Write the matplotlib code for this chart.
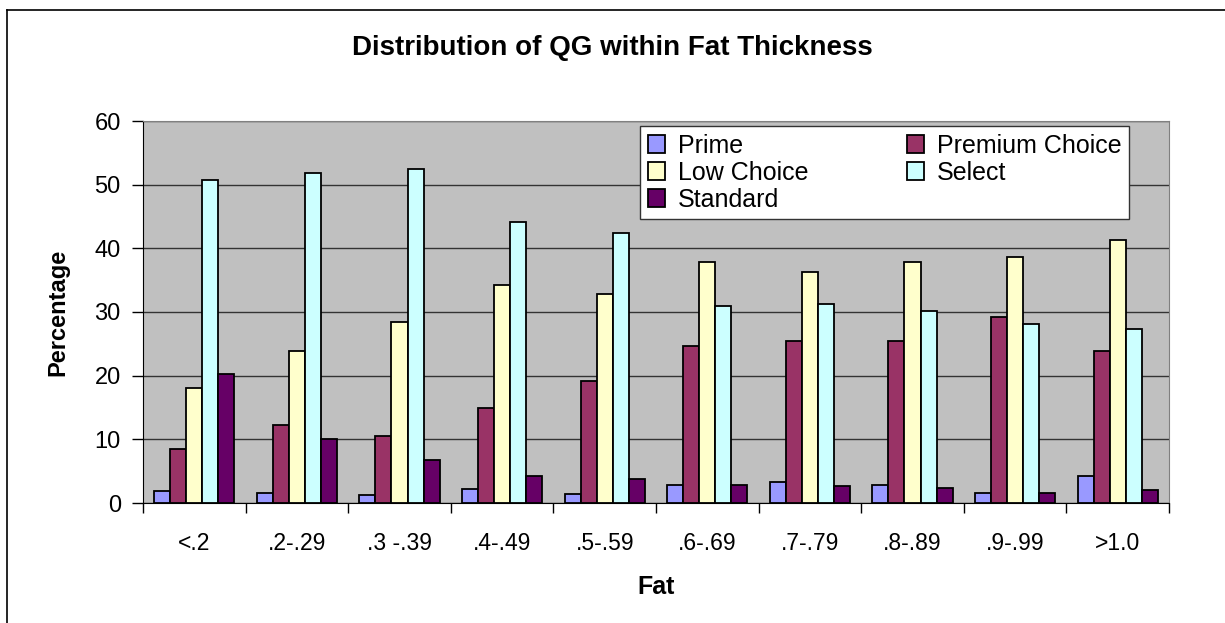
import matplotlib
matplotlib.use("Agg")
import matplotlib.pyplot as plt
import numpy as np
from matplotlib.lines import Line2D

categories = ["<.2", ".2-.29", ".3 -.39", ".4-.49", ".5-.59", ".6-.69", ".7-.79", ".8-.89", ".9-.99", ">1.0"]
prime = [1.9, 1.6, 1.3, 2.2, 1.4, 2.9, 3.3, 2.9, 1.6, 4.3]
premium_choice = [8.5, 12.2, 10.6, 14.9, 19.1, 24.7, 25.5, 25.5, 29.2, 23.9]
low_choice = [18.1, 23.8, 28.4, 34.2, 32.9, 37.9, 36.3, 37.9, 38.7, 41.3]
select = [50.8, 51.9, 52.4, 44.2, 42.4, 31.0, 31.3, 30.2, 28.1, 27.3]
standard = [20.2, 10.1, 6.7, 4.3, 3.8, 2.9, 2.7, 2.4, 1.6, 2.0]

series = [
    ("Prime", prime, "#9999FF"),
    ("Premium Choice", premium_choice, "#993366"),
    ("Low Choice", low_choice, "#FFFFCC"),
    ("Select", select, "#CCFFFF"),
    ("Standard", standard, "#660066"),
]

plt.rcParams['font.family'] = ['Liberation Sans', 'DejaVu Sans']

fig = plt.figure(figsize=(12.25, 6.23), dpi=100)
ax = fig.add_axes([143/1225, 1-503/623, (1169-143)/1225, (503-121)/623])
ax.set_facecolor("#C0C0C0")

x = np.arange(len(categories))
bw = 0.156
handles = {}
for i, (name, vals, col) in enumerate(series):
    b = ax.bar(x + (i - 2) * bw, vals, width=bw, color=col, edgecolor="black",
               linewidth=1.3, label=name, zorder=3)
    handles[name] = b

ax.set_xlim(-0.5, len(categories) - 0.5)
ax.set_ylim(0, 60)
ax.set_yticks(range(0, 61, 10))
ax.yaxis.grid(True, color="#333333", linewidth=1, zorder=0)
ax.set_axisbelow(True)

ax.set_xticks(x)
ax.set_xticklabels(categories, fontsize=16.5)
ax.tick_params(axis='x', which='major', length=0, pad=21)
ax.set_xticks(np.arange(-0.5, len(categories), 1.0), minor=True)
ax.tick_params(axis='x', which='minor', length=7, direction='out', color='black', width=1)
ax.tick_params(axis='y', length=8, direction='out', labelsize=17, pad=8, width=1)

for s in ['top', 'right']:
    ax.spines[s].set_color('#808080')
ax.spines['left'].set_color('black')
ax.spines['bottom'].set_color('black')

ax.set_ylabel("Percentage", fontsize=17, fontweight='bold', labelpad=18)
ax.set_xlabel("Fat", fontsize=18, fontweight='bold', labelpad=14)

fig.text(0.5, 1 - 48/623, "Distribution of QG within Fat Thickness", ha='center', va='center',
         fontsize=20, fontweight='bold')

order = ["Prime", "Low Choice", "Standard", "Premium Choice", "Select"]
leg = fig.legend([handles[n] for n in order], order, ncol=2, loc='upper left',
                 bbox_to_anchor=(640/1225, 1 - 126/623), fontsize=18, frameon=True,
                 fancybox=False, edgecolor='#333333', framealpha=1,
                 handlelength=0.7, handleheight=0.7, handletextpad=0.5,
                 columnspacing=3.95, labelspacing=0.12, borderpad=0.3, borderaxespad=0)
leg.get_frame().set_linewidth(1)

fig.add_artist(Line2D([7/1225, 7/1225], [0, 1 - 10/623], color='black', linewidth=1.2, transform=fig.transFigure))
fig.add_artist(Line2D([7/1225, 1], [1 - 10/623, 1 - 10/623], color='black', linewidth=1.2, transform=fig.transFigure))

fig.savefig("out.png", dpi=100)
